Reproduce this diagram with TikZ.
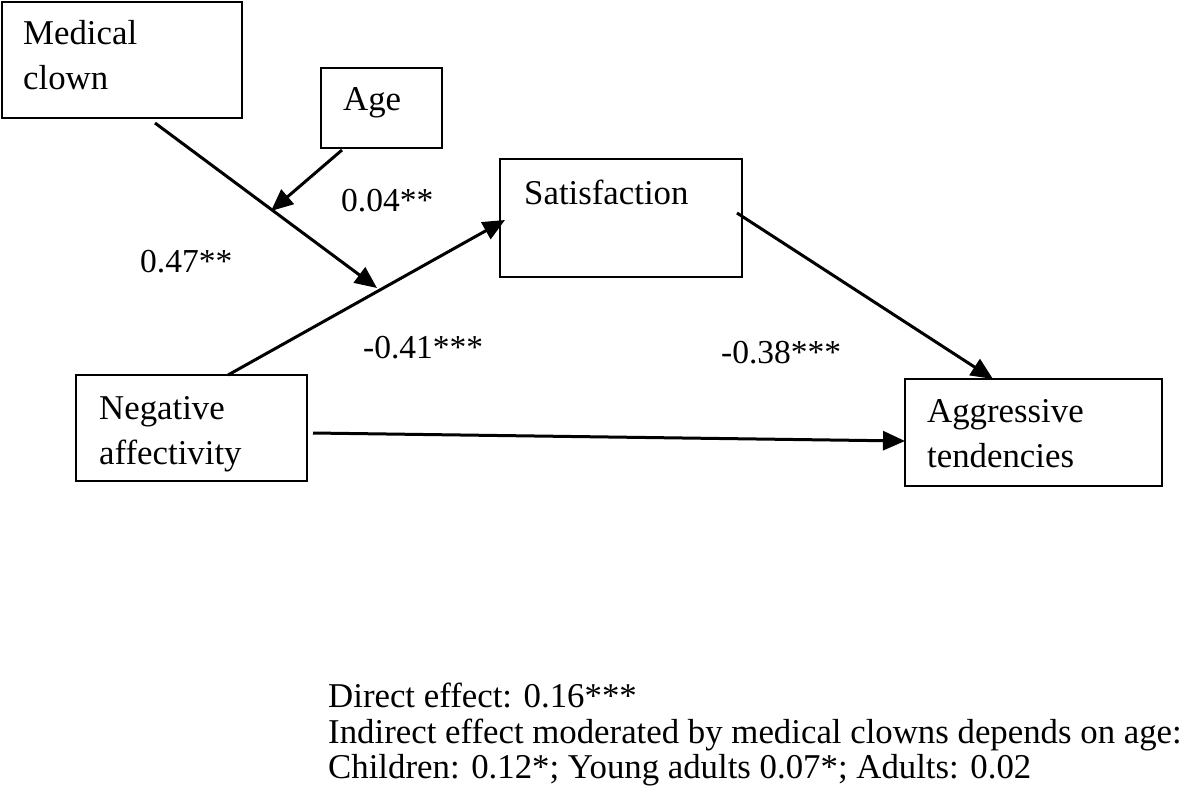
\documentclass[tikz,border=0pt]{standalone}
\usepackage{fontspec}
\setmainfont{Liberation Serif}
\usetikzlibrary{arrows.meta}
\begin{document}
\begin{tikzpicture}[x=1pt,y=-1pt,
  box/.style={draw, line width=2.6pt, inner sep=0pt},
  lbl/.style={anchor=base west, inner sep=0pt, font=\fontsize{34.8}{40}\selectfont},
  coef/.style={anchor=base west, inner sep=0pt, font=\fontsize{33.5}{40}\selectfont},
  conn/.style={line width=3pt, -{Triangle[length=22pt,width=19pt]}}]
\useasboundingbox (0,0) rectangle (1181,804);
% boxes
\node[box, minimum width=240pt, minimum height=116pt] (mc) at (122,60) {};
\node[box, minimum width=121pt, minimum height=80pt] (age) at (381.5,108) {};
\node[box, minimum width=242pt, minimum height=118pt] (sat) at (621,218) {};
\node[box, minimum width=257pt, minimum height=107pt] (agg) at (1033.5,432.5) {};
\node[box, minimum width=231pt, minimum height=106pt] (neg) at (191.5,428) {};
% box texts
\node[lbl] (mc1) at (23,44) {Medical};
\node[lbl] (mc2) at (23,89) {clown};
\node[lbl] (aget) at (343,110) {Age};
\node[lbl] (satt) at (524,204) {Satisfaction};
\node[lbl] (agg1) at (927,422) {Aggressive};
\node[lbl] (agg2) at (927,467) {tendencies};
\node[lbl] (neg1) at (99,419) {Negative};
\node[lbl] (neg2) at (99,464) {affectivity};
% connector points
\coordinate (mcS) at (155,123);
\coordinate (mod) at (377,288);
\coordinate (ageS) at (342,150);
\coordinate (ageE) at (271,211);
\coordinate (negT) at (228,375);
\coordinate (satW) at (505,220);
\coordinate (satE) at (737,213);
\coordinate (aggN) at (993,379);
\coordinate (negE) at (313,433);
\coordinate (aggW) at (905,441);
% connectors
\draw[conn] (mcS) -- (mod);
\draw[conn] (ageS) -- (ageE);
\draw[conn] (negT) -- (satW);
\draw[conn] (satE) -- (aggN);
\draw[conn] (negE) -- (aggW);
% coefficients
\node[coef] (c1) at (140,272) {0.47**};
\node[coef] (c2) at (341,211) {0.04**};
\node[coef] (c3) at (363,358) {-0.41***};
\node[coef] (c4) at (721,363) {-0.38***};
% bottom text
\node[lbl] (b1) at (328,707) {Direct effect: 0.16***};
\node[lbl] (b2) at (328,743) {Indirect effect moderated by medical clowns depends on age:};
\node[lbl] (b3) at (328,778) {Children: 0.12*; Young adults 0.07*; Adults: 0.02};
\end{tikzpicture}
\end{document}
